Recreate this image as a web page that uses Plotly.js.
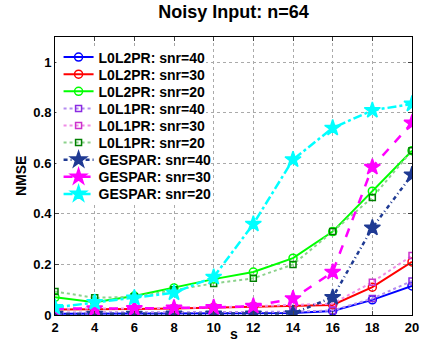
<!DOCTYPE html>
<html><head><meta charset="utf-8">
<script src="https://cdn.plot.ly/plotly-3.0.1.min.js"></script>
<style>html,body{margin:0;padding:0;background:#fff}</style>
</head><body><div id="chart" style="width:421px;height:341px"></div>
<script>
const s = [2,4,6,8,10,12,14,16,18,20];
const l0l2_40 = [0.005,0.005,0.005,0.006,0.006,0.007,0.008,0.016,0.06,0.115];
const l0l2_30 = [0.022,0.022,0.024,0.026,0.03,0.034,0.038,0.04,0.11,0.21];
const l0l2_20 = [0.07,0.05,0.075,0.107,0.142,0.17,0.225,0.33,0.49,0.65];
const l0l1_40 = [0.01,0.01,0.01,0.011,0.012,0.012,0.013,0.018,0.065,0.135];
const l0l1_30 = [0.025,0.025,0.026,0.028,0.03,0.035,0.04,0.045,0.13,0.235];
const l0l1_20 = [0.093,0.068,0.072,0.1,0.125,0.145,0.2,0.33,0.465,0.65];
const ges_40 = [0.004,0.004,0.004,0.005,0.005,0.005,0.006,0.07,0.345,0.555];
const ges_30 = [0.025,0.025,0.026,0.028,0.03,0.035,0.065,0.17,0.585,0.76];
const ges_20 = [0.03,0.05,0.068,0.088,0.15,0.36,0.615,0.74,0.81,0.835];
const names = ['L0L2PR: snr=40','L0L2PR: snr=30','L0L2PR: snr=20',
  'L0L1PR: snr=40','L0L1PR: snr=30','L0L1PR: snr=20',
  'GESPAR: snr=40','GESPAR: snr=30','GESPAR: snr=20'];

const F = 'Liberation Sans, Arial, sans-serif';
let idx = 0;
function tr(y, name, lc, mc, dash, sym, msize, lw){
  idx++;
  return {x:s, y:y, name:name, type:'scatter', mode:'lines+markers',
    legend: idx === 1 ? 'legend' : 'legend' + idx,
    line:{color:lc, dash:dash, width:lw},
    marker:{symbol:sym, size:msize, color:mc, line:{color:mc, width:1.5}}};
}
const data = [
  tr(l0l2_40, names[0], '#0000ff', '#0000ff', 'solid', 'circle-open', 8, 2),
  tr(l0l2_30, names[1], '#ff0000', '#ff0000', 'solid', 'circle-open', 8, 2),
  tr(l0l2_20, names[2], '#00ff00', '#00ff00', 'solid', 'circle-open', 8, 2),
  tr(l0l1_40, names[3], '#b48cf0', '#8a2be2', 'dot', 'square-open', 6, 2),
  tr(l0l1_30, names[4], '#f08ce6', '#cc33cc', 'dot', 'square-open', 6, 2),
  tr(l0l1_20, names[5], '#8cd28c', '#008000', 'dot', 'square-open', 6, 2),
  tr(ges_40, names[6], '#1f3a93', '#1f3a93', '4px,3px,1px,3px', 'star', 12, 2.5),
  tr(ges_30, names[7], '#ff00ff', '#ff00ff', 'dash', 'star', 12, 2.5),
  tr(ges_20, names[8], '#00ffff', '#00ffff', 'dashdot', 'star', 12, 2.5)
];
const axFont = {family:F, size:13, color:'#000', weight:'bold'};
const plotTop = 37, plotBot = 315, plotH = plotBot - plotTop;
const layout = {
  width:421, height:341,
  margin:{l:55, r:9, t:plotTop, b:341 - plotBot},
  paper_bgcolor:'#fff', plot_bgcolor:'#fff',
  title:{text:'Noisy Input: n=64', xref:'paper', x:0.5, xanchor:'center', y:0.985, yanchor:'top',
    font:{family:F, size:18, color:'#000', weight:'bold'}},
  xaxis:{range:[2,20], tickvals:s, ticktext:s.map(String), ticks:'inside', ticklen:4,
    showline:true, linecolor:'#000', linewidth:1, mirror:'ticks', zeroline:false,
    showgrid:true, gridcolor:'#aaa', griddash:'dot', gridwidth:1, tickfont:axFont},
  yaxis:{range:[0,1.1], tickvals:[0,0.2,0.4,0.6,0.8,1], ticktext:['0','0.2','0.4','0.6','0.8','1'],
    ticks:'inside', ticklen:4, showline:true, linecolor:'#000', linewidth:1, mirror:'ticks',
    zeroline:false, showgrid:true, gridcolor:'#aaa', griddash:'dot', gridwidth:1, tickfont:axFont},
  annotations:[
    {text:'s', xref:'paper', yref:'paper', x:0.5, y:(plotBot - 334)/plotH, xanchor:'center', yanchor:'middle',
      showarrow:false, font:{family:F, size:14, color:'#000', weight:'bold'}},
    {text:'NMSE', xref:'paper', yref:'paper', x:(21 - 55)/357, y:0.5, xanchor:'center', yanchor:'middle',
      textangle:-90, showarrow:false, font:{family:F, size:14, color:'#000', weight:'bold'}}
  ],
  shapes:[{type:'rect', xref:'paper', yref:'paper', layer:'above',
    x0:0.004, x1:(206 - 55)/357, y0:(plotBot - 205)/plotH, y1:(plotBot - 47)/plotH,
    fillcolor:'#fff', line:{width:0}}],
  showlegend:true
};
for (let i = 0; i < 9; i++) {
  const key = i === 0 ? 'legend' : 'legend' + (i + 1);
  const yc = 57.5 + i * 17.1;
  layout[key] = {x:0.01, y:(plotBot - yc)/plotH, xanchor:'left', yanchor:'middle',
    bgcolor:'rgba(0,0,0,0)', borderwidth:0, itemwidth:30,
    font:{family:F, size:14, color:'#000', weight:'bold'}};
}
Plotly.newPlot('chart', data, layout, {displayModeBar:false, staticPlot:true});
</script></body></html>
